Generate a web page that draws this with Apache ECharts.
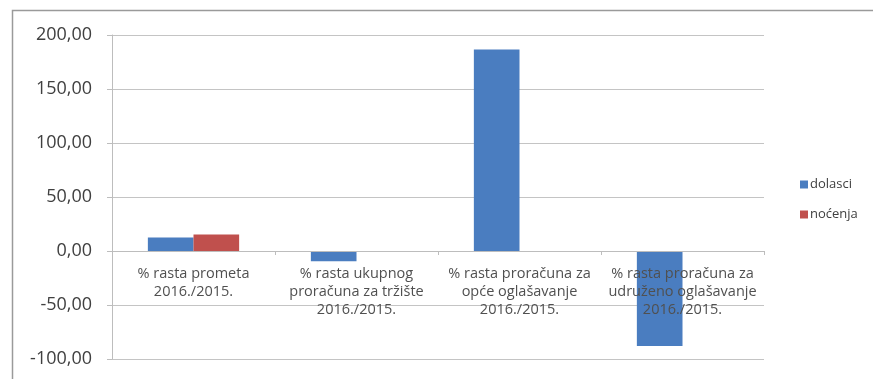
<!DOCTYPE html>
<html>
<head>
<meta charset="utf-8">
<script src="https://cdn.jsdelivr.net/npm/echarts@6/dist/echarts.min.js"></script>
<style>
html,body{margin:0;padding:0;background:#fff;}
#c{width:873px;height:379px;}
</style>
</head>
<body>
<div id="c"></div>
<script>
var categories = [
  "% rasta prometa\n2016./2015.",
  "% rasta ukupnog\nproračuna za tržište\n2016./2015.",
  "% rasta proračuna za\nopće oglašavanje\n2016./2015.",
  "% rasta proračuna za\nudruženo oglašavanje\n2016./2015."
];
var dolasci = [12.4, -9.5, 186.5, -88.0];
var nocenja = [15.2, null, null, null];
var yTicks = { min: -100, max: 200, interval: 50 };

var gridTop = 35, gridBottom = 20, H = 379;
var plotH = H - gridTop - gridBottom;
var zeroOffset = -plotH * (0 - yTicks.min) / (yTicks.max - yTicks.min);

var chart = echarts.init(document.getElementById('c'));
chart.setOption({
  animation: false,
  graphic: [{
    type: 'rect',
    shape: { x: 12.5, y: 10.5, width: 900, height: 400 },
    style: { fill: 'none', stroke: '#9a9a9a', lineWidth: 1.5 },
    silent: true
  }],
  grid: { left: 112, right: 109, top: gridTop, bottom: gridBottom, containLabel: false, outerBoundsMode: 'none' },
  legend: {
    orient: 'vertical',
    left: 795,
    top: 173,
    itemWidth: 8,
    itemHeight: 8,
    itemGap: 17,
    icon: 'rect',
    textStyle: { fontFamily: 'Open Sans', fontSize: 13, color: '#404040', padding: [0, 0, 0, -3] },
    data: ['dolasci', 'noćenja']
  },
  xAxis: {
    type: 'category',
    data: categories,
    position: 'bottom',
    offset: zeroOffset,
    z: 5,
    axisLine: { onZero: false, lineStyle: { color: '#bdbdbd', width: 1 } },
    axisTick: { show: true, length: 4, lineStyle: { color: '#bdbdbd' } },
    axisLabel: {
      margin: 14,
      fontFamily: 'Open Sans',
      fontSize: 14.5,
      lineHeight: 18,
      color: '#505050',
      interval: 0
    }
  },
  yAxis: {
    type: 'value',
    min: yTicks.min,
    max: yTicks.max,
    interval: yTicks.interval,
    axisLine: { show: true, lineStyle: { color: '#bdbdbd' } },
    axisTick: { show: true, length: 5, lineStyle: { color: '#bdbdbd' } },
    splitLine: { lineStyle: { color: '#c4c4c4', width: 1 } },
    axisLabel: {
      margin: 20,
      fontFamily: 'Open Sans',
      fontSize: 18,
      color: '#404040',
      formatter: function (v) { return v.toFixed(2).replace('.', ','); }
    }
  },
  series: [
    { name: 'dolasci', type: 'bar', data: dolasci, barGap: '0%', barCategoryGap: '44%',
      itemStyle: { color: '#4a7dc0' } },
    { name: 'noćenja', type: 'bar', data: nocenja, barGap: '0%', barCategoryGap: '44%',
      itemStyle: { color: '#c0504d' } }
  ]
});
</script>
</body>
</html>
